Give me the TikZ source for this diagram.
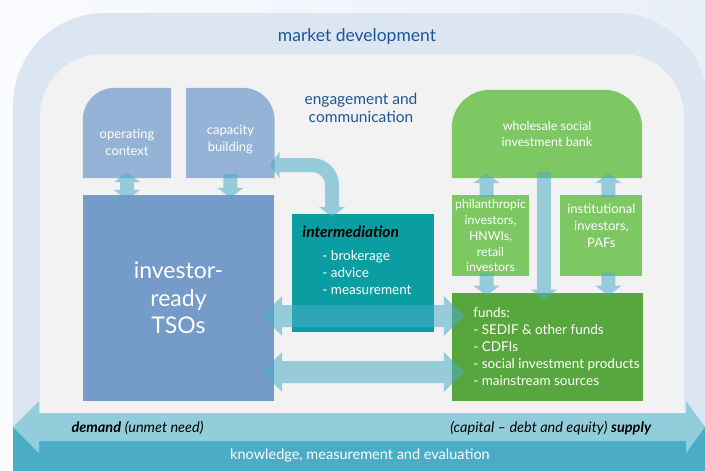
\documentclass[tikz,border=0pt]{standalone}
\usepackage{fontspec}
\setmainfont{Lato}
\usepackage{tikz}
\usetikzlibrary{arrows.meta, positioning, backgrounds}
\definecolor{pagewhite}{RGB}{250, 251, 254}
\definecolor{pageblue}{RGB}{233, 239, 248}
\definecolor{bandblue}{RGB}{220, 230, 242}
\definecolor{innergray}{RGB}{242, 242, 242}
\definecolor{tileblue}{RGB}{149, 179, 215}
\definecolor{tsoblue}{RGB}{117, 155, 200}
\definecolor{interteal}{RGB}{10, 158, 163}
\definecolor{bankgreen}{RGB}{126, 200, 100}
\definecolor{fundgreen}{RGB}{88, 167, 62}
\definecolor{demandblue}{RGB}{146, 205, 220}
\definecolor{knowblue}{RGB}{75, 172, 198}
\definecolor{titleblue}{RGB}{30, 86, 150}

\begin{document}
\begin{tikzpicture}[x=1pt, y=-1pt,
    box/.style={inner sep=0pt, align=center, text=white},
    tile/.style={box, minimum width=88pt, minimum height=90pt},
    tiletext/.style={align=center, text=white, font=\fontsize{13}{17}\selectfont},
    listtext/.style={align=left, text=white, font=\fontsize{13.5}{17}\selectfont},
    bandtext/.style={font=\fontsize{14.5}{16}\selectfont},
    flowone/.style={draw=knowblue, line width=14pt, -{Triangle[width=26pt, length=10pt]}},
    flowtwo/.style={flowone, {Triangle[width=26pt, length=10pt]}-{Triangle[width=26pt, length=10pt]}},
    flowwide/.style={draw=knowblue, line width=22pt, {Triangle[width=39pt, length=20pt]}-{Triangle[width=39pt, length=20pt]}}
]
    \useasboundingbox (0,0) rectangle (705,471);

    % left side: demand
    \node[tile, label={[tiletext, yshift=-9pt]center:operating\\context}] (context) at (127,133) {};
    \node[tile, right=15pt of context, label={[tiletext, yshift=-6pt]center:capacity\\building}] (capacity) {};
    \node[box, fill=tsoblue, minimum width=191pt, minimum height=206pt,
          font=\fontsize{23}{27.5}\selectfont] (tsos) at (178.5,298) {investor-\\ready\\TSOs};
    \node[box, fill=interteal, minimum width=142pt, minimum height=118pt,
          label={[listtext, shift={(-6pt,13pt)}]center:{\textcolor{black}{\fontsize{15.5}{17}\selectfont\bfseries\itshape intermediation}\\[6pt]
          \hspace*{20pt}- brokerage\\\hspace*{20pt}- advice\\\hspace*{20pt}- measurement}}] (intermed) at (363,273) {};

    % right side: supply
    \node[box, minimum width=190pt, minimum height=88pt, font=\fontsize{12.5}{16}\selectfont] (bank) at (547,134) {wholesale social\\investment bank};
    \node[box, fill=bankgreen, minimum width=77pt, minimum height=81pt, font=\fontsize{12.3}{15.7}\selectfont,
          below=17pt of bank.south west, anchor=north west] (phil) {philanthropic\\investors,\\HNWIs,\\retail\\investors};
    \node[box, fill=bankgreen, minimum width=82pt, minimum height=81pt, right=31pt of phil,
          label={[tiletext, yshift=10pt]center:institutional\\investors,\\PAFs}] (inst) {};
    \node[box, fill=fundgreen, minimum width=191pt, minimum height=108pt,
          below=16pt of phil.south west, anchor=north west,
          label={[listtext, anchor=west, xshift=18pt]west:funds:\\- SEDIF \& other funds\\- CDFIs\\- social investment products\\- mainstream sources}] (funds) {};

    % frame texts
    \node[text=titleblue, font=\fontsize{17.5}{20}\selectfont] (market) at (357,37) {market development};
    \node[text=titleblue, align=center, font=\fontsize{15.5}{18.5}\selectfont] (engage) at (361,108) {engagement and\\communication};
    \node[bandtext, anchor=west] (demand) at (68,428) {\textbf{\textit{demand}} \textit{(unmet need)}};
    \node[bandtext, anchor=east] (supply) at (655,428) {\textit{(capital -- debt and equity)} \textbf{\textit{supply}}};
    \node[bandtext, text=white] (knowledge) at (360,455) {knowledge, measurement and evaluation};

    \begin{scope}[on background layer]
        \shade[left color=pagewhite, right color=pageblue] (0,0) rectangle (705,471);
        \fill[bandblue, rounded corners=92pt] (13,440) -- (13,13) -- (708,13) -- (708,440);
        \fill[innergray, rounded corners=62pt] (40,420) -- (40,54) -- (684,54) -- (684,420);
        \fill[knowblue] (13,427) rectangle (706,472);
        \fill[demandblue] (39,413) -- (686,413) -- (686,401) -- (705,427) -- (686,453) -- (686,441)
            -- (39,441) -- (39,453) -- (13,427) -- (39,401) -- cycle;
        % boxes with round tops
        \fill[tileblue] (context.south west) -- ([yshift=-32pt]context.north west)
            arc[start angle=180, end angle=90, radius=32pt] -- (context.north east) -- (context.south east) -- cycle;
        \fill[tileblue] (capacity.south west) -- (capacity.north west) -- ([xshift=-32pt]capacity.north east)
            arc[start angle=90, end angle=0, radius=32pt] -- (capacity.south east) -- cycle;
        \fill[bankgreen] (bank.south west) -- ([yshift=-38pt]bank.north west)
            arc[start angle=180, end angle=90, radius=38pt] -- ([xshift=-38pt]bank.north east)
            arc[start angle=90, end angle=0, radius=38pt] -- (bank.south east) -- cycle;
    \end{scope}

    % flows
    \begin{scope}[transparency group, opacity=0.55]
        \draw[flowtwo, shorten <=-6pt, shorten >=-5pt] (context.south) -- (context.south |- tsos.north);
        \draw[flowone, shorten <=-4pt, shorten >=-3pt] (capacity.south) -- (capacity.south |- tsos.north);
        \draw[flowtwo, rounded corners=20pt, shorten <=-5pt, shorten >=-3pt]
            ([yshift=-32pt]capacity.east) -| ([xshift=-31pt]intermed.north);
        \draw[flowwide, shorten <=-12pt, shorten >=-12pt] (tsos.east |- 0,316) -- (funds.west |- 0,316);
        \draw[flowwide, shorten <=-12pt, shorten >=-12pt] (tsos.east |- 0,372) -- (funds.west |- 0,372);
        \draw[flowone, shorten <=-2pt, shorten >=-5pt] ([xshift=-4pt]phil.north) -- ([xshift=-4pt]phil.north |- bank.south);
        \draw[flowone, shorten <=-2pt, shorten >=-5pt] ([xshift=7pt]inst.north) -- ([xshift=7pt]inst.north |- bank.south);
        \draw[flowone, shorten <=-4pt, shorten >=-3pt] ([xshift=-4pt]phil.south) -- ([xshift=-4pt]phil.south |- funds.north);
        \draw[flowone, shorten <=-4pt, shorten >=-3pt] ([xshift=7pt]inst.south) -- ([xshift=7pt]inst.south |- funds.north);
        \draw[flowone, shorten <=-6pt, shorten >=-7pt] ([xshift=-3pt]bank.south) -- ([xshift=-3pt]bank.south |- funds.north);
    \end{scope}
\end{tikzpicture}
\end{document}
